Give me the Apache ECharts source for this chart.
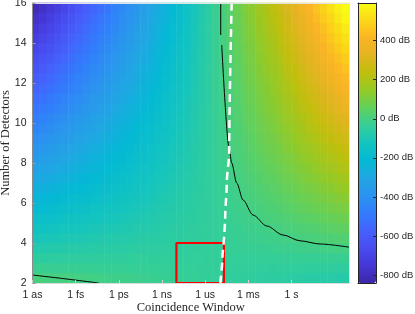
<!DOCTYPE html>
<html><head><meta charset="utf-8">
<script src="https://cdn.jsdelivr.net/npm/echarts@6/dist/echarts.min.js"></script>
<style>html,body{margin:0;padding:0;background:#fff}#c{width:415px;height:314px}</style>
</head><body><div id="c"></div>
<script>
// cell centres: log10(coincidence window / s) and number of detectors
const windowDecades = [-17.75,-17.25,-16.75,-16.25,-15.75,-15.25,-14.75,-14.25,-13.75,-13.25,-12.75,-12.25,-11.75,-11.25,-10.75,-10.25,-9.75,-9.25,-8.75,-8.25,-7.75,-7.25,-6.75,-6.25,-5.75,-5.25,-4.75,-4.25,-3.75,-3.25,-2.75,-2.25,-1.75,-1.25,-0.75,-0.25,0.25,0.75,1.25,1.75,2.25,2.75,3.25,3.75];
const detectorCounts = [2.25,2.75,3.25,3.75,4.25,4.75,5.25,5.75,6.25,6.75,7.25,7.75,8.25,8.75,9.25,9.75,10.25,10.75,11.25,11.75,12.25,12.75,13.25,13.75,14.25,14.75,15.25,15.75];
const levelDb = [
[9,7,5,3,1,-1,-2,-4,-6,-8,-10,-12,-14,-15,-17,-19,-21,-23,-25,-26,-28,-30,-32,-34,-36,-38,-39,-41,-43,-45,-47,-49,-51,-52,-54,-56,-58,-60,-62,-64,-65,-67,-69,-71],
[-22,-22,-23,-24,-24,-25,-25,-26,-27,-27,-28,-28,-29,-30,-30,-31,-32,-32,-33,-33,-34,-35,-35,-36,-36,-37,-38,-38,-39,-40,-40,-41,-41,-42,-43,-43,-44,-44,-45,-46,-46,-47,-48,-48],
[-52,-51,-51,-50,-50,-49,-48,-48,-47,-46,-46,-45,-45,-44,-43,-43,-42,-42,-41,-40,-40,-39,-38,-38,-37,-37,-36,-35,-35,-34,-33,-33,-32,-32,-31,-30,-30,-29,-28,-28,-27,-26,-25,-24],
[-82,-80,-79,-77,-75,-73,-71,-69,-67,-66,-64,-62,-60,-58,-56,-55,-53,-51,-49,-47,-45,-43,-42,-40,-38,-36,-34,-32,-30,-29,-27,-25,-23,-21,-19,-17,-15,-12,-10,-8,-6,-4,-1,1],
[-113,-110,-106,-103,-100,-97,-94,-91,-88,-85,-82,-79,-76,-72,-69,-66,-63,-60,-57,-54,-51,-48,-45,-42,-39,-35,-32,-29,-26,-23,-20,-17,-14,-11,-7,-4,0,4,8,11,15,19,22,26],
[-143,-139,-134,-130,-126,-121,-117,-113,-108,-104,-100,-95,-91,-87,-82,-78,-74,-70,-65,-61,-57,-52,-48,-44,-39,-35,-31,-26,-22,-18,-13,-9,-5,0,4,10,15,20,25,30,36,41,46,51],
[-173,-168,-162,-157,-151,-146,-140,-134,-129,-123,-118,-112,-107,-101,-96,-90,-84,-79,-73,-68,-62,-57,-51,-46,-40,-34,-29,-23,-18,-12,-7,-1,5,10,16,23,30,36,43,50,56,63,70,76],
[-204,-197,-190,-183,-176,-170,-163,-156,-149,-143,-136,-129,-122,-115,-109,-102,-95,-88,-81,-75,-68,-61,-54,-47,-41,-34,-27,-20,-13,-7,0,7,14,21,28,36,44,52,61,69,77,85,93,101],
[-234,-226,-218,-210,-202,-194,-186,-178,-170,-162,-154,-146,-138,-130,-122,-114,-106,-98,-89,-81,-73,-65,-57,-49,-41,-33,-25,-17,-9,-1,7,15,23,31,40,49,59,69,78,88,98,107,117,127],
[-264,-255,-246,-237,-227,-218,-209,-200,-190,-181,-172,-162,-153,-144,-135,-125,-116,-107,-98,-88,-79,-70,-61,-51,-42,-33,-24,-14,-5,4,14,23,32,41,52,63,74,85,96,107,118,129,141,152],
[-295,-284,-274,-263,-253,-242,-232,-221,-211,-200,-190,-179,-169,-158,-148,-137,-127,-116,-106,-95,-85,-74,-64,-53,-43,-32,-22,-11,-1,10,20,31,41,52,63,76,89,101,114,126,139,152,164,177],
[-325,-313,-302,-290,-278,-266,-255,-243,-231,-219,-208,-196,-184,-172,-161,-149,-137,-126,-114,-102,-90,-79,-67,-55,-43,-32,-20,-8,4,15,27,39,51,62,75,89,103,117,132,146,160,174,188,202],
[-355,-342,-329,-316,-303,-290,-277,-264,-252,-239,-226,-213,-200,-187,-174,-161,-148,-135,-122,-109,-96,-83,-70,-57,-44,-31,-18,-5,8,21,34,47,60,73,87,102,118,134,149,165,180,196,211,227],
[-386,-371,-357,-343,-329,-315,-300,-286,-272,-258,-244,-229,-215,-201,-187,-173,-158,-144,-130,-116,-102,-87,-73,-59,-45,-31,-16,-2,12,26,41,55,69,83,99,116,133,150,167,184,201,218,235,252],
[-416,-401,-385,-370,-354,-339,-323,-308,-292,-277,-262,-246,-231,-215,-200,-184,-169,-154,-138,-123,-107,-92,-76,-61,-45,-30,-15,1,16,32,47,63,78,93,110,129,147,166,185,203,222,240,259,277],
[-446,-430,-413,-396,-380,-363,-346,-330,-313,-296,-280,-263,-246,-230,-213,-196,-180,-163,-146,-130,-113,-96,-80,-63,-46,-30,-13,4,21,37,54,71,87,104,122,142,162,182,202,222,242,262,282,302],
[-477,-459,-441,-423,-405,-387,-369,-351,-333,-315,-298,-280,-262,-244,-226,-208,-190,-172,-154,-136,-118,-101,-83,-65,-47,-29,-11,7,25,43,61,79,96,114,134,156,177,199,220,242,263,285,306,328],
[-507,-488,-469,-450,-430,-411,-392,-373,-354,-335,-316,-296,-277,-258,-239,-220,-201,-182,-162,-143,-124,-105,-86,-67,-48,-28,-9,10,29,48,67,87,106,125,146,169,192,215,238,261,284,307,330,353],
[-537,-517,-497,-476,-456,-435,-415,-395,-374,-354,-334,-313,-293,-272,-252,-232,-211,-191,-171,-150,-130,-109,-89,-69,-48,-28,-7,13,33,54,74,94,115,135,158,182,207,231,256,280,304,329,353,378],
[-568,-546,-524,-503,-481,-460,-438,-416,-395,-373,-352,-330,-308,-287,-265,-243,-222,-200,-179,-157,-135,-114,-92,-71,-49,-27,-6,16,38,59,81,102,124,146,169,195,221,247,273,299,325,351,377,403],
[-598,-575,-552,-529,-507,-484,-461,-438,-415,-392,-369,-347,-324,-301,-278,-255,-232,-210,-187,-164,-141,-118,-95,-72,-50,-27,-4,19,42,65,87,110,133,156,181,209,236,263,291,318,346,373,401,428],
[-628,-604,-580,-556,-532,-508,-484,-460,-436,-412,-387,-363,-339,-315,-291,-267,-243,-219,-195,-171,-147,-123,-98,-74,-50,-26,-2,22,46,70,94,118,142,167,193,222,251,280,309,338,366,395,424,453],
[-659,-633,-608,-583,-557,-532,-507,-481,-456,-431,-405,-380,-355,-330,-304,-279,-254,-228,-203,-178,-152,-127,-102,-76,-51,-26,0,25,50,76,101,126,152,177,205,235,266,296,326,357,387,418,448,478],
[-689,-662,-636,-609,-583,-556,-530,-503,-477,-450,-423,-397,-370,-344,-317,-291,-264,-238,-211,-184,-158,-131,-105,-78,-52,-25,1,28,55,81,108,134,161,187,217,248,280,312,344,376,408,440,472,503],
[-719,-692,-664,-636,-608,-580,-553,-525,-497,-469,-441,-414,-386,-358,-330,-302,-275,-247,-219,-191,-164,-136,-108,-80,-52,-25,3,31,59,87,114,142,170,198,228,262,295,328,362,395,428,462,495,529],
[-750,-721,-692,-663,-634,-605,-576,-546,-517,-488,-459,-430,-401,-372,-343,-314,-285,-256,-227,-198,-169,-140,-111,-82,-53,-24,5,34,63,92,121,150,179,208,240,275,310,345,380,414,449,484,519,554],
[-780,-750,-719,-689,-659,-629,-598,-568,-538,-508,-477,-447,-417,-387,-356,-326,-296,-266,-235,-205,-175,-145,-114,-84,-54,-23,7,37,67,98,128,158,188,219,252,288,324,361,397,433,470,506,542,579],
[-810,-779,-747,-716,-684,-653,-621,-590,-558,-527,-495,-464,-432,-401,-369,-338,-306,-275,-243,-212,-180,-149,-117,-86,-54,-23,9,40,72,103,135,166,198,229,264,302,339,377,415,453,491,528,566,604]
];
const xTickValues = [-18,-15,-12,-9,-6,-3,0];
const xTickLabels = ['1 as','1 fs','1 ps','1 ns','1 us','1 ms','1 s'];
const xRange = [-18, 4];
const yRange = [2, 16];
const colorRange = [-841, 593];
const colorTickValues = [-800,-600,-400,-200,0,200,400];
// 0 dB contour, upper branch (two pieces) and lower-left branch: [decade, detectors]
const contourUpperTop = [[-4.92,15.98],[-4.92,14.4]];
const contourUpperMain = [[-4.85,13.9],[-4.32,8.65],[-4.16,8.0],[-3.81,7.0],[-3.37,6.15],[-2.68,5.4],[-1.72,4.85],[-0.59,4.4],[0.59,4.11],[1.98,3.95],[4.0,3.79]];
const contourLower = [[-18,2.4],[-15.86,2.22],[-13.4,2.0]];
const boundaryDashed = [[-4.16,16],[-4.33,8.55],[-4.50,7.0],[-4.61,5.3],[-4.66,4.5],[-4.72,4.0],[-4.80,3.3],[-4.95,2.0]];
const regionBox = [[-8,2],[-4.7,2],[-4.7,4],[-8,4],[-8,2]];

const parula = ['#3e26a8','#4537d5','#484cf0','#4562fc','#327cfc','#2b93ef','#21a6e3','#04b9d4','#14c4bf','#33ce99','#61d05d','#93ca27','#c0bf0d','#e2b421','#fbb425','#fbd717','#f9fb15'];

const heatData = [];
levelDb.forEach((row, j) => row.forEach((v, i) => heatData.push([i, j, v])));

const txt = '#262626';
const sans = 'Liberation Sans';
const plotRect = {left: 32.5, top: 3, width: 316.6, height: 280, outerBoundsMode: 'none', containLabel: false};

const chart = echarts.init(document.getElementById('c'), null, {renderer: 'canvas'});
chart.setOption({
  animation: false,
  grid: [
    Object.assign({}, plotRect),
    Object.assign({}, plotRect),
    {left: 358, top: 3, width: 18, height: 280, outerBoundsMode: 'none', containLabel: false}
  ],
  xAxis: [
    {gridIndex: 0, type: 'category', data: windowDecades.map(String), show: false},
    {gridIndex: 1, type: 'value', min: xRange[0], max: xRange[1], position: 'bottom', z: 5,
     axisLine: {show: true, onZero: false, lineStyle: {color: '#dcdcdc', width: 1}},
     axisTick: {show: true, inside: true, length: 3, customValues: xTickValues, lineStyle: {color: '#d0d0d0'}},
     axisLabel: {customValues: xTickValues, formatter: v => xTickLabels[xTickValues.indexOf(v)] || '', margin: 7, color: txt, fontSize: 10.5, fontFamily: sans},
     splitLine: {show: false},
     name: 'Coincidence Window', nameLocation: 'middle', nameGap: 18, nameMoveOverlap: false,
     nameTextStyle: {fontFamily: 'Liberation Serif', fontSize: 12.5, color: txt}},
    {gridIndex: 1, type: 'value', min: xRange[0], max: xRange[1], position: 'top', z: 5,
     axisLine: {show: true, onZero: false, lineStyle: {color: '#e2e2e2'}},
     axisTick: {show: false}, axisLabel: {show: false}, splitLine: {show: false}},
    {gridIndex: 2, type: 'value', min: 0, max: 1, position: 'bottom', z: 6,
     axisLine: {show: true, onZero: false, lineStyle: {color: txt}},
     axisTick: {show: false}, axisLabel: {show: false}, splitLine: {show: false}},
    {gridIndex: 2, type: 'value', min: 0, max: 1, position: 'top', z: 6,
     axisLine: {show: true, onZero: false, lineStyle: {color: txt}},
     axisTick: {show: false}, axisLabel: {show: false}, splitLine: {show: false}}
  ],
  yAxis: [
    {gridIndex: 0, type: 'category', data: detectorCounts.map(String), show: false},
    {gridIndex: 1, type: 'value', min: yRange[0], max: yRange[1], interval: 2, position: 'left', z: 5,
     axisLine: {show: true, onZero: false, lineStyle: {color: '#8c8c8c'}},
     axisTick: {show: true, inside: true, length: 3, lineStyle: {color: '#9a9a9a'}},
     axisLabel: {margin: 6, color: txt, fontSize: 10.5, fontFamily: sans},
     splitLine: {show: false},
     name: 'Number of Detectors', nameLocation: 'middle', nameGap: 20, nameMoveOverlap: false,
     nameTextStyle: {fontFamily: 'Liberation Serif', fontSize: 12.5, color: txt}},
    {gridIndex: 1, type: 'value', min: yRange[0], max: yRange[1], position: 'right', z: 5,
     axisLine: {show: true, onZero: false, lineStyle: {color: '#e2e2e2'}},
     axisTick: {show: false}, axisLabel: {show: false}, splitLine: {show: false}},
    {gridIndex: 2, type: 'value', min: colorRange[0], max: colorRange[1], position: 'right', z: 6,
     axisLine: {show: true, onZero: false, lineStyle: {color: txt}},
     axisTick: {show: true, inside: true, length: 3, customValues: colorTickValues, lineStyle: {color: txt}},
     axisLabel: {customValues: colorTickValues, formatter: v => v + ' dB', margin: 4, color: txt, fontSize: 9.5, fontFamily: sans},
     splitLine: {show: false}},
    {gridIndex: 2, type: 'value', min: colorRange[0], max: colorRange[1], position: 'left', z: 6,
     axisLine: {show: true, onZero: false, lineStyle: {color: txt}},
     axisTick: {show: false}, axisLabel: {show: false}, splitLine: {show: false}}
  ],
  visualMap: {
    type: 'continuous', min: colorRange[0], max: colorRange[1], seriesIndex: 0, dimension: 2,
    inRange: {color: parula}, left: 358, top: 3, itemWidth: 18, itemHeight: 280,
    padding: 0, calculable: false, hoverLink: false, orient: 'vertical', text: null, show: true
  },
  series: [
    {type: 'heatmap', xAxisIndex: 0, yAxisIndex: 0, data: heatData, progressive: 0, silent: true,
     emphasis: {disabled: true}},
    {type: 'line', xAxisIndex: 1, yAxisIndex: 1, data: contourUpperTop, symbol: 'none', silent: true,
     lineStyle: {color: '#000', width: 1}},
    {type: 'line', xAxisIndex: 1, yAxisIndex: 1, data: contourUpperMain, symbol: 'none', silent: true,
     smooth: 0.3, smoothMonotone: 'x', lineStyle: {color: '#000', width: 1}},
    {type: 'line', xAxisIndex: 1, yAxisIndex: 1, data: contourLower, symbol: 'none', silent: true,
     smooth: 0.3, lineStyle: {color: '#000', width: 1}},
    {type: 'line', xAxisIndex: 1, yAxisIndex: 1, data: regionBox, symbol: 'none', silent: true, clip: false,
     lineStyle: {color: '#ff0000', width: 2.2}},
    {type: 'line', xAxisIndex: 1, yAxisIndex: 1, data: boundaryDashed, symbol: 'none', silent: true,
     smooth: 0.3, smoothMonotone: 'y', lineStyle: {color: '#ffffff', width: 2.5, type: [8, 5]}}
  ]
});
</script></body></html>
